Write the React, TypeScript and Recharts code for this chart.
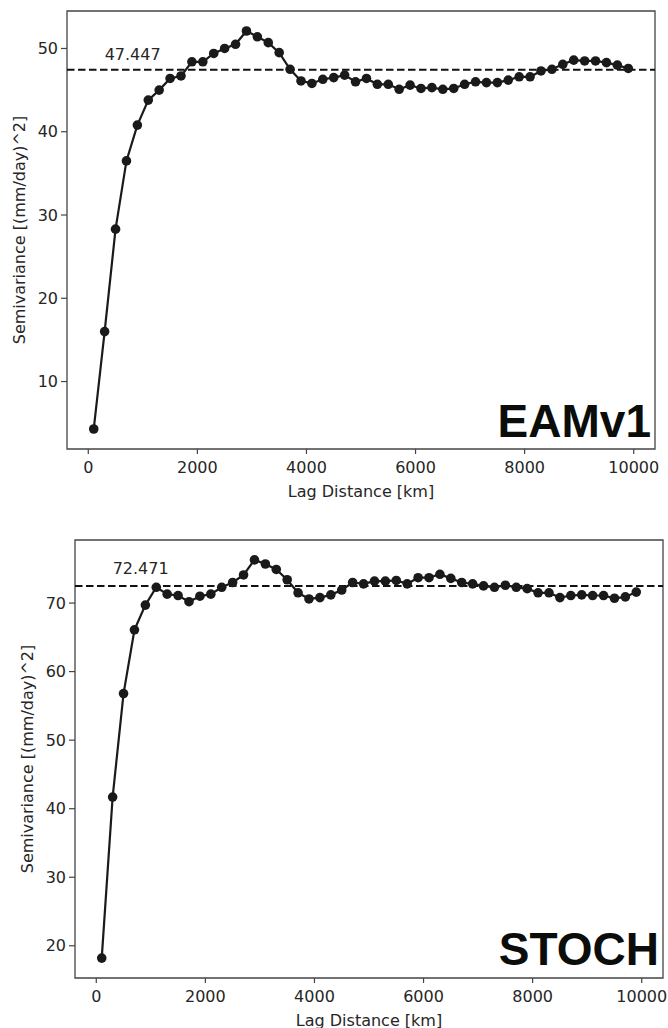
import React from 'react';
import {
  LineChart,
  Line,
  XAxis,
  YAxis,
  ReferenceLine,
  ReferenceArea,
  ReferenceDot,
} from 'recharts';

// ---------- data ----------
const LAGS = [
  100, 300, 500, 700, 900, 1100, 1300, 1500, 1700, 1900,
  2100, 2300, 2500, 2700, 2900, 3100, 3300, 3500, 3700, 3900,
  4100, 4300, 4500, 4700, 4900, 5100, 5300, 5500, 5700, 5900,
  6100, 6300, 6500, 6700, 6900, 7100, 7300, 7500, 7700, 7900,
  8100, 8300, 8500, 8700, 8900, 9100, 9300, 9500, 9700, 9900,
];

const EAM_VALUES = [
  4.3, 16.0, 28.3, 36.5, 40.8, 43.8, 45.0, 46.4, 46.7, 48.4,
  48.4, 49.4, 50.0, 50.5, 52.1, 51.4, 50.7, 49.5, 47.5, 46.1,
  45.8, 46.3, 46.5, 46.8, 46.0, 46.4, 45.7, 45.7, 45.1, 45.6,
  45.2, 45.3, 45.1, 45.2, 45.7, 46.0, 45.9, 45.9, 46.2, 46.6,
  46.6, 47.3, 47.5, 48.1, 48.6, 48.5, 48.5, 48.3, 48.0, 47.6,
];

const STOCH_VALUES = [
  18.2, 41.7, 56.8, 66.1, 69.7, 72.3, 71.3, 71.1, 70.2, 71.0,
  71.3, 72.3, 73.0, 74.1, 76.3, 75.7, 74.9, 73.4, 71.5, 70.6,
  70.8, 71.2, 71.9, 73.0, 72.8, 73.2, 73.2, 73.3, 72.8, 73.7,
  73.7, 74.2, 73.6, 73.0, 72.8, 72.5, 72.3, 72.6, 72.3, 72.1,
  71.5, 71.5, 70.8, 71.1, 71.2, 71.1, 71.1, 70.7, 70.9, 71.6,
];

const EAM_SILL = 47.447;
const STOCH_SILL = 72.471;

const X_TICKS = [0, 2000, 4000, 6000, 8000, 10000];
const EAM_Y_TICKS = [10, 20, 30, 40, 50];
const STOCH_Y_TICKS = [20, 30, 40, 50, 60, 70];

const X_DOMAIN: [number, number] = [-390, 10390];
const EAM_Y_DOMAIN: [number, number] = [1.9, 54.5];
const STOCH_Y_DOMAIN: [number, number] = [15.3, 79.2];

const X_LABEL = 'Lag Distance [km]';
const Y_LABEL = 'Semivariance [(mm/day)^2]';

// ---------- styles ----------
const FONT = '"DejaVu Sans", Verdana, sans-serif';
const INK = '#1a1a1a';
const TEXT = '#262626';
const FRAME = '#444';

type PanelProps = {
  values: number[];
  sill: number;
  yDomain: [number, number];
  yTicks: number[];
  width: number;
  height: number;
  margin: { top: number; right: number; bottom: number; left: number };
};

const Y_AXIS_W = 52;
const X_AXIS_H = 40;

function Panel({ values, sill, yDomain, yTicks, width, height, margin }: PanelProps) {
  const data = LAGS.map((lag, i) => ({ lag, v: values[i] }));
  const plotLeft = margin.left + Y_AXIS_W;
  const plotRight = width - margin.right;
  const plotTop = margin.top;
  const plotBottom = height - margin.bottom - X_AXIS_H;
  const cx = (plotLeft + plotRight) / 2;
  const cy = (plotTop + plotBottom) / 2;

  const tickStyle = { fontFamily: FONT, fontSize: 16, fill: TEXT };

  const SillLabel = (p: any) => {
    const vb = p.viewBox || {};
    return (
      <text
        x={vb.x}
        y={vb.y}
        textAnchor="start"
        fontFamily={FONT}
        fontSize={16}
        fill={TEXT}
      >
        {sill.toFixed(3)}
      </text>
    );
  };

  return (
    <LineChart width={width} height={height} data={data} margin={margin}>
      <XAxis
        dataKey="lag"
        type="number"
        domain={X_DOMAIN}
        ticks={X_TICKS}
        interval={0}
        allowDataOverflow
        height={X_AXIS_H}
        axisLine={false}
        tickSize={5}
        tickMargin={8}
        tickLine={{ stroke: FRAME, strokeWidth: 1.2 }}
        tick={tickStyle}
        label={{
          content: () => (
            <text
              x={cx}
              y={plotBottom + 47.5}
              textAnchor="middle"
              fontFamily={FONT}
              fontSize={16}
              fill={TEXT}
            >
              {X_LABEL}
            </text>
          ),
        }}
      />
      <YAxis
        type="number"
        domain={yDomain}
        ticks={yTicks}
        interval={0}
        allowDataOverflow
        width={Y_AXIS_W}
        axisLine={false}
        tickSize={6}
        tickMargin={3}
        tickLine={{ stroke: FRAME, strokeWidth: 1.2 }}
        tick={tickStyle}
        label={{
          content: () => (
            <text
              x={plotLeft - 42.5}
              y={cy}
              transform={`rotate(-90, ${plotLeft - 42.5}, ${cy})`}
              textAnchor="middle"
              fontFamily={FONT}
              fontSize={16}
              fill={TEXT}
            >
              {Y_LABEL}
            </text>
          ),
        }}
      />
      <ReferenceArea
        x1={X_DOMAIN[0]}
        x2={X_DOMAIN[1]}
        y1={yDomain[0]}
        y2={yDomain[1]}
        fill="none"
        fillOpacity={0}
        stroke={FRAME}
        strokeWidth={1.3}
        ifOverflow="visible"
      />
      <ReferenceLine
        y={sill}
        stroke="#111"
        strokeWidth={2}
        strokeDasharray="7.5 3.5"
      />
      <ReferenceDot
        x={300}
        y={sill * 1.025}
        r={0}
        fill="none"
        stroke="none"
        label={<SillLabel />}
      />
      <Line
        type="linear"
        dataKey="v"
        stroke={INK}
        strokeWidth={2.2}
        dot={{ r: 4.8, fill: INK, stroke: INK, strokeWidth: 0 }}
        activeDot={false}
        isAnimationActive={false}
      />
    </LineChart>
  );
}

export default function App() {
  return (
    <div
      style={{
        position: 'absolute',
        left: 0,
        top: 0,
        width: 668,
        height: 1028,
        background: '#fff',
        overflow: 'hidden',
      }}
    >
      <div style={{ position: 'absolute', left: 0, top: 0 }}>
        <Panel
          values={EAM_VALUES}
          sill={EAM_SILL}
          yDomain={EAM_Y_DOMAIN}
          yTicks={EAM_Y_TICKS}
          width={668}
          height={506}
          margin={{ top: 11, right: 13, bottom: 17, left: 15 }}
        />
      </div>
      <div style={{ position: 'absolute', left: 0, top: 510 }}>
        <Panel
          values={STOCH_VALUES}
          sill={STOCH_SILL}
          yDomain={STOCH_Y_DOMAIN}
          yTicks={STOCH_Y_TICKS}
          width={668}
          height={518}
          margin={{ top: 30, right: 5, bottom: 10, left: 23 }}
        />
      </div>
      <svg
        width={668}
        height={1028}
        style={{ position: 'absolute', left: 0, top: 0, pointerEvents: 'none' }}
      >
        <text
          x={651}
          y={437}
          textAnchor="end"
          fontFamily='"Liberation Sans", Arial, sans-serif'
          fontWeight="bold"
          fontSize={46}
          fill="#0a0d0a"
        >
          EAMv1
        </text>
        <text
          x={659}
          y={965}
          textAnchor="end"
          fontFamily='"Liberation Sans", Arial, sans-serif'
          fontWeight="bold"
          fontSize={46}
          fill="#0a0d0a"
        >
          STOCH
        </text>
      </svg>
    </div>
  );
}
